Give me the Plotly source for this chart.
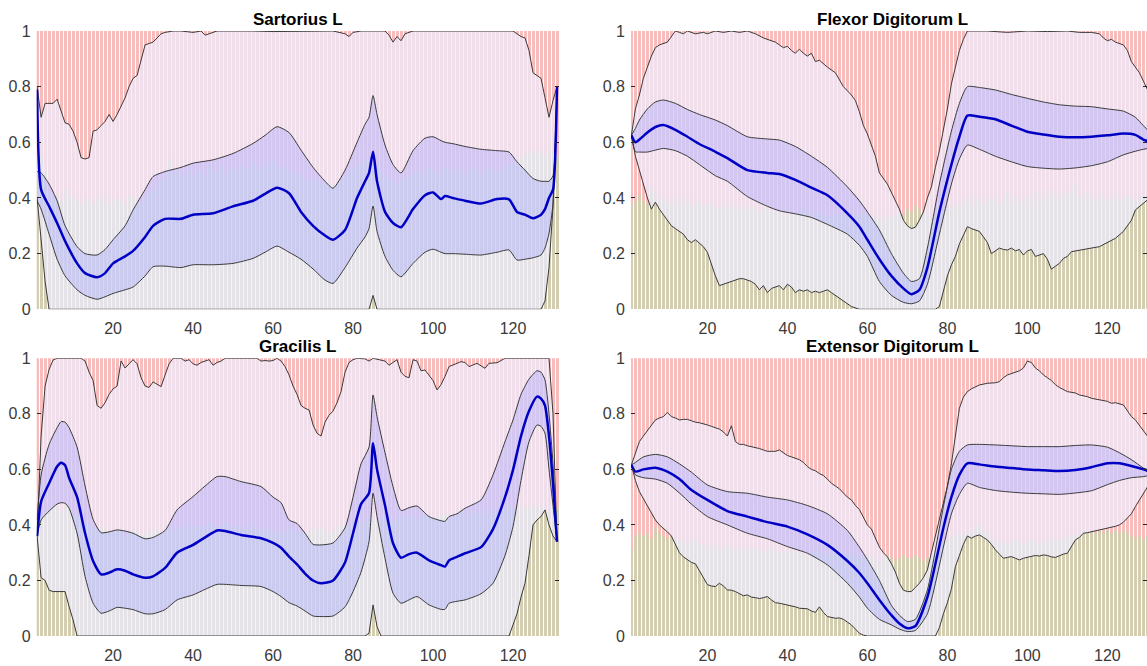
import plotly.graph_objects as go

# ---------------- Sartorius L ----------------
SAR_X = [1,2,4,6,8,11,13,16,18,20,23,25,28,30,33,37,40,45,50,55,58,61,64,67,70,73,75,78,81,83,84,85,86,88,90,92,95,98,100,102,103,105,108,112,116,119,121,123,125,127,128,129,130,131]
SAR_MEAN = [0.79,0.43,0.37,0.31,0.245,0.165,0.13,0.115,0.13,0.165,0.19,0.21,0.26,0.30,0.325,0.325,0.34,0.345,0.37,0.39,0.415,0.437,0.417,0.35,0.30,0.265,0.25,0.285,0.40,0.46,0.49,0.566,0.46,0.35,0.31,0.295,0.36,0.41,0.42,0.396,0.407,0.40,0.39,0.38,0.396,0.395,0.35,0.34,0.327,0.34,0.36,0.40,0.43,0.80]
SAR_UP = [0.495,0.49,0.45,0.39,0.30,0.225,0.20,0.195,0.215,0.25,0.30,0.357,0.43,0.477,0.495,0.51,0.525,0.537,0.56,0.596,0.625,0.656,0.635,0.572,0.51,0.46,0.435,0.50,0.60,0.665,0.69,0.768,0.70,0.59,0.52,0.49,0.57,0.615,0.62,0.606,0.60,0.595,0.585,0.575,0.57,0.565,0.53,0.50,0.47,0.46,0.46,0.46,0.48,0.80]
SAR_LO = [0.39,0.36,0.27,0.18,0.12,0.07,0.05,0.036,0.045,0.057,0.07,0.08,0.12,0.153,0.155,0.15,0.16,0.16,0.165,0.183,0.205,0.227,0.205,0.18,0.145,0.105,0.093,0.15,0.22,0.26,0.29,0.371,0.28,0.19,0.14,0.117,0.165,0.205,0.216,0.205,0.20,0.20,0.198,0.195,0.205,0.213,0.177,0.18,0.185,0.195,0.22,0.273,0.38,0.80]
SAR_MAXX = [1,2,3,5,6,7,8,9,10,11,12,13,14,15,16,17,18,19,20,21,22,23,24,25,26,27,28,29,30,31,32,33,35,37,40,42,43,44,46,55,60,75,78,79,80,82,88,89,90,91,92,93,95,120,121,122,123,124,125,126,127,128,129,130,131]
SAR_MAX = [0.80,0.69,0.74,0.74,0.755,0.71,0.67,0.665,0.64,0.60,0.545,0.54,0.545,0.64,0.645,0.66,0.675,0.70,0.675,0.70,0.73,0.76,0.80,0.83,0.84,0.90,0.95,0.955,0.96,0.975,0.99,0.995,1.0,1.0,0.995,1.0,0.985,0.99,1.0,1.0,0.998,1.0,0.99,0.98,0.995,1.0,1.0,0.985,0.96,0.98,0.965,0.99,1.0,1.0,0.99,0.98,0.975,0.93,0.85,0.84,0.83,0.76,0.69,0.75,0.80]
SAR_MINX = [1,2,3,4,84,85,86,127,128,129,130,131]
SAR_MIN = [0.40,0.25,0.10,0.0,0.0,0.05,0.0,0.0,0.03,0.15,0.37,0.80]
SAR_BAR = [0.54,0.55,0.50,0.42,0.40,0.41,0.39,0.43,0.41,0.40,
           0.39,0.38,0.40,0.39,0.38,0.40,0.39,0.41,0.38,0.39,
           0.40,0.39,0.38,0.41,0.40,0.39,0.38,0.40,0.42,0.43,
           0.45,0.47,0.48,0.54,0.49,0.50,0.48,0.49,0.50,0.48,
           0.49,0.50,0.48,0.51,0.49,0.50,0.52,0.49,0.50,0.51,
           0.50,0.52,0.50,0.51,0.53,0.50,0.52,0.51,0.53,0.54,
           0.52,0.50,0.51,0.49,0.50,0.48,0.49,0.47,0.46,0.47,
           0.46,0.45,0.46,0.44,0.45,0.46,0.47,0.48,0.50,0.51,
           0.52,0.53,0.54,0.55,0.54,0.52,0.50,0.48,0.47,0.46,
           0.45,0.46,0.47,0.48,0.49,0.50,0.49,0.50,0.51,0.50,
           0.49,0.50,0.51,0.50,0.49,0.51,0.50,0.49,0.50,0.51,
           0.50,0.49,0.50,0.51,0.50,0.49,0.50,0.51,0.52,0.53,
           0.54,0.55,0.56,0.57,0.56,0.57,0.56,0.55,0.57,0.56,0.55]

# ---------------- Flexor Digitorum L ----------------
FLX_X = [1,2,3,5,7,9,12,15,18,22,25,30,35,38,42,46,50,55,58,60,63,66,69,71,73,75,78,81,83,85,88,92,96,100,104,108,112,116,120,124,127,129,131]
FLX_MEAN = [0.625,0.60,0.61,0.635,0.655,0.662,0.645,0.62,0.594,0.566,0.543,0.50,0.49,0.486,0.465,0.437,0.41,0.345,0.297,0.25,0.18,0.12,0.075,0.054,0.07,0.15,0.35,0.52,0.62,0.696,0.692,0.683,0.66,0.638,0.628,0.62,0.618,0.62,0.625,0.632,0.627,0.61,0.60]
FLX_UP = [0.625,0.65,0.68,0.72,0.745,0.752,0.74,0.718,0.70,0.68,0.66,0.62,0.612,0.608,0.585,0.55,0.51,0.44,0.39,0.35,0.285,0.20,0.13,0.10,0.11,0.22,0.45,0.64,0.74,0.80,0.797,0.788,0.772,0.758,0.745,0.735,0.73,0.728,0.72,0.712,0.69,0.66,0.63]
FLX_LO = [0.625,0.566,0.565,0.565,0.572,0.578,0.57,0.55,0.52,0.48,0.46,0.405,0.37,0.354,0.343,0.33,0.305,0.27,0.23,0.19,0.10,0.05,0.025,0.02,0.03,0.09,0.27,0.45,0.54,0.59,0.575,0.55,0.53,0.513,0.507,0.504,0.508,0.516,0.53,0.555,0.568,0.575,0.58]
FLX_MAXX = [1,2,3,4,5,6,7,8,10,11,12,13,14,15,17,19,20,22,24,26,28,30,32,34,35,37,38,39,40,41,42,43,44,45,46,47,48,50,52,54,55,56,57,58,59,60,62,63,65,66,68,69,70,71,72,73,74,75,76,77,78,80,81,82,83,84,85,90,95,100,105,110,113,116,118,119,120,121,122,124,125,126,127,128,129,130,131]
FLX_MAX = [0.625,0.72,0.77,0.83,0.87,0.91,0.94,0.95,0.96,0.98,1.0,0.995,0.99,1.0,0.99,0.995,0.99,1.0,0.995,1.0,0.995,1.0,0.99,0.975,0.97,0.96,0.95,0.94,0.945,0.93,0.92,0.935,0.92,0.91,0.92,0.89,0.895,0.87,0.85,0.80,0.785,0.77,0.75,0.71,0.66,0.63,0.55,0.49,0.45,0.42,0.36,0.32,0.30,0.29,0.295,0.32,0.35,0.40,0.44,0.51,0.57,0.72,0.81,0.87,0.93,0.97,1.0,1.0,0.995,1.0,0.998,1.0,0.995,0.995,0.99,0.975,0.965,0.97,0.96,0.95,0.93,0.89,0.87,0.85,0.82,0.79,0.74]
FLX_MINX = list(range(1, 57)) + [58] + list(range(77, 113)) + [114,116,118,120,122,124,126,127,128,130,131]
FLX_MIN = [0.625,0.55,0.50,0.45,0.40,0.36,0.385,0.36,0.34,0.32,
           0.30,0.29,0.28,0.27,0.25,0.24,0.25,0.237,0.225,0.205,
           0.16,0.12,0.085,0.09,0.095,0.10,0.105,0.11,0.11,0.105,
           0.10,0.09,0.07,0.085,0.06,0.075,0.08,0.085,0.07,0.09,
           0.08,0.06,0.07,0.065,0.07,0.06,0.065,0.06,0.065,0.07,
           0.06,0.05,0.04,0.03,0.02,0.01,
           0.0,
           0.0,0.01,0.07,0.12,0.16,0.19,0.235,0.265,0.297,0.29,
           0.285,0.28,0.26,0.24,0.20,0.21,0.22,0.215,0.213,0.22,
           0.21,0.215,0.195,0.21,0.215,0.19,0.195,0.20,0.18,0.144,
           0.155,0.165,0.183,0.19,0.207,0.21,
           0.215,0.22,0.225,0.24,0.255,0.28,0.32,0.357,0.37,0.393,0.40]
FLX_BAR = [0.38,0.39,0.41,0.39,0.38,0.44,0.42,0.39,0.40,0.39,
           0.38,0.40,0.38,0.39,0.40,0.37,0.38,0.39,0.37,0.38,
           0.38,0.37,0.36,0.38,0.37,0.36,0.37,0.36,0.38,0.36,
           0.37,0.36,0.35,0.36,0.37,0.35,0.36,0.35,0.34,0.36,
           0.35,0.34,0.35,0.36,0.34,0.35,0.34,0.35,0.34,0.33,
           0.34,0.33,0.34,0.35,0.33,0.34,0.33,0.34,0.35,0.34,
           0.33,0.34,0.32,0.33,0.34,0.33,0.34,0.35,0.34,0.36,
           0.35,0.37,0.36,0.35,0.34,0.33,0.34,0.35,0.36,0.37,
           0.36,0.38,0.37,0.39,0.40,0.38,0.41,0.39,0.38,0.40,
           0.39,0.41,0.38,0.40,0.42,0.39,0.41,0.40,0.38,0.41,
           0.40,0.42,0.39,0.41,0.40,0.43,0.41,0.40,0.42,0.41,
           0.43,0.45,0.41,0.40,0.42,0.40,0.39,0.41,0.40,0.39,
           0.40,0.41,0.39,0.40,0.41,0.40,0.39,0.40,0.41,0.40,0.39]

# ---------------- Gracilis L ----------------
GRA_X = [1,2,4,6,7,8,9,11,13,15,17,19,21,23,25,28,30,33,36,40,43,46,48,52,57,60,62,64,66,68,70,72,75,78,80,82,84,85,86,88,90,92,94,96,99,102,103,104,106,108,112,115,118,120,122,124,126,127,128,129,130,131]
GRA_MEAN = [0.36,0.484,0.55,0.61,0.624,0.615,0.57,0.50,0.37,0.27,0.222,0.228,0.24,0.235,0.222,0.21,0.215,0.245,0.30,0.328,0.355,0.38,0.378,0.364,0.352,0.335,0.318,0.286,0.258,0.225,0.20,0.19,0.20,0.265,0.37,0.475,0.515,0.694,0.60,0.47,0.334,0.282,0.295,0.30,0.272,0.255,0.25,0.272,0.285,0.298,0.32,0.385,0.50,0.598,0.72,0.81,0.862,0.855,0.83,0.72,0.55,0.34]
GRA_UP = [0.418,0.58,0.69,0.75,0.772,0.77,0.75,0.68,0.54,0.42,0.372,0.375,0.382,0.378,0.37,0.35,0.355,0.38,0.454,0.502,0.54,0.574,0.574,0.556,0.538,0.50,0.48,0.418,0.405,0.37,0.33,0.328,0.335,0.39,0.50,0.62,0.68,0.868,0.79,0.66,0.538,0.452,0.462,0.468,0.43,0.415,0.413,0.43,0.44,0.46,0.49,0.58,0.70,0.778,0.87,0.925,0.955,0.95,0.922,0.80,0.62,0.34]
GRA_LO = [0.36,0.418,0.45,0.475,0.48,0.478,0.46,0.37,0.214,0.118,0.082,0.09,0.103,0.10,0.095,0.08,0.08,0.095,0.13,0.148,0.168,0.186,0.186,0.182,0.178,0.16,0.142,0.12,0.108,0.09,0.072,0.07,0.072,0.105,0.16,0.23,0.34,0.514,0.43,0.28,0.154,0.118,0.13,0.142,0.112,0.096,0.096,0.118,0.125,0.13,0.152,0.19,0.29,0.394,0.56,0.70,0.76,0.755,0.73,0.60,0.47,0.34]
GRA_MAXX = [1,2,3,4,5,6,12,13,14,15,16,17,18,19,20,21,22,23,24,25,26,27,28,29,30,31,32,33,34,35,37,38,39,40,41,42,43,44,45,46,47,48,56,57,58,59,60,61,62,63,64,65,66,67,68,69,70,71,72,73,74,75,76,77,78,79,80,81,83,84,85,88,89,90,91,92,93,94,95,96,97,98,99,100,101,102,103,104,106,107,108,109,111,113,114,116,118,129,130,131]
GRA_MAX = [0.36,0.72,0.90,0.96,0.994,1.0,1.0,0.99,0.95,0.92,0.83,0.82,0.84,0.87,0.89,0.90,0.99,0.965,0.98,0.995,0.98,0.93,0.90,0.895,0.915,0.905,0.898,0.94,0.98,1.0,1.0,0.99,0.995,0.98,0.975,0.985,0.99,0.995,0.975,0.985,0.99,1.0,1.0,0.99,0.992,0.99,0.992,1.0,0.99,0.97,0.94,0.90,0.87,0.83,0.82,0.814,0.76,0.73,0.72,0.77,0.795,0.81,0.84,0.88,0.95,0.985,0.995,1.0,0.998,0.99,1.0,0.99,0.975,0.985,0.995,0.95,0.935,0.93,0.995,0.99,0.955,0.958,0.94,0.92,0.886,0.905,0.935,0.97,0.982,0.988,0.985,0.97,0.982,0.964,0.982,0.984,1.0,1.0,0.80,0.34]
GRA_MINX = [1,2,3,4,5,8,9,10,11,83,84,85,86,87,119,120,121,122,123,124,125,126,127,128,129,130,131]
GRA_MIN = [0.36,0.21,0.20,0.165,0.16,0.16,0.106,0.058,0.0,0.0,0.01,0.112,0.034,0.0,0.0,0.04,0.08,0.14,0.19,0.29,0.40,0.418,0.43,0.454,0.40,0.36,0.34]
GRA_BAR = [0.42,0.44,0.45,0.46,0.47,0.46,0.45,0.47,0.46,0.44,
           0.43,0.42,0.41,0.40,0.39,0.38,0.39,0.38,0.37,0.38,
           0.37,0.38,0.36,0.37,0.38,0.37,0.36,0.37,0.38,0.37,
           0.38,0.37,0.38,0.39,0.38,0.39,0.38,0.39,0.40,0.39,
           0.40,0.39,0.40,0.41,0.40,0.39,0.40,0.41,0.40,0.39,
           0.40,0.39,0.38,0.39,0.40,0.39,0.38,0.39,0.38,0.37,
           0.38,0.37,0.38,0.39,0.38,0.37,0.38,0.37,0.38,0.39,
           0.38,0.39,0.38,0.37,0.38,0.39,0.40,0.39,0.40,0.41,
           0.42,0.41,0.42,0.43,0.42,0.41,0.42,0.43,0.42,0.41,
           0.42,0.43,0.42,0.44,0.43,0.42,0.43,0.44,0.43,0.42,
           0.43,0.44,0.43,0.42,0.43,0.44,0.45,0.43,0.44,0.45,
           0.44,0.45,0.44,0.46,0.44,0.45,0.46,0.45,0.47,0.46,
           0.45,0.47,0.46,0.47,0.46,0.47,0.46,0.45,0.46,0.47,0.46]

# ---------------- Extensor Digitorum L ----------------
EXT_X = [1,2,4,7,10,13,16,20,25,30,35,40,45,50,55,58,60,63,66,68,70,72,75,77,79,81,83,85,88,92,96,100,104,108,112,116,120,123,126,129,131]
EXT_MEAN = [0.616,0.592,0.60,0.606,0.592,0.565,0.526,0.49,0.45,0.43,0.41,0.394,0.366,0.328,0.27,0.227,0.19,0.13,0.075,0.045,0.028,0.036,0.14,0.26,0.39,0.50,0.58,0.622,0.618,0.61,0.605,0.60,0.597,0.594,0.598,0.608,0.622,0.622,0.612,0.60,0.59]
EXT_UP = [0.616,0.625,0.645,0.654,0.645,0.62,0.59,0.544,0.52,0.514,0.50,0.49,0.47,0.44,0.38,0.32,0.275,0.20,0.11,0.075,0.052,0.06,0.166,0.31,0.466,0.60,0.665,0.688,0.69,0.688,0.685,0.682,0.682,0.682,0.686,0.688,0.68,0.66,0.635,0.605,0.595]
EXT_LO = [0.616,0.58,0.57,0.565,0.55,0.515,0.475,0.43,0.40,0.37,0.35,0.322,0.298,0.256,0.19,0.14,0.10,0.06,0.04,0.025,0.016,0.02,0.08,0.19,0.32,0.44,0.51,0.55,0.535,0.524,0.518,0.514,0.512,0.51,0.515,0.523,0.545,0.56,0.57,0.574,0.58]
EXT_MAXX = list(range(1, 87)) + [88,90,92,93,94,95,96,97,98,99,100,101,102,103,104,105,106,107,108,110,112,113,115,116,118,120,121,122,124,125,126,127,128,129,130,131]
EXT_MAX = [0.616,0.66,0.70,0.72,0.74,0.76,0.778,0.785,0.79,0.805,
           0.79,0.785,0.778,0.78,0.78,0.775,0.77,0.768,0.765,0.76,
           0.755,0.75,0.745,0.735,0.72,0.757,0.70,0.69,0.69,0.685,
           0.682,0.68,0.675,0.67,0.665,0.665,0.665,0.67,0.66,0.65,
           0.645,0.64,0.635,0.625,0.61,0.60,0.595,0.585,0.578,0.565,
           0.55,0.54,0.53,0.515,0.50,0.49,0.47,0.455,0.43,0.40,
           0.385,0.35,0.32,0.30,0.285,0.26,0.23,0.19,0.165,0.16,
           0.16,0.175,0.19,0.21,0.238,0.30,0.36,0.418,0.47,0.54,
           0.62,0.73,0.82,0.86,0.88,0.89,
           0.904,0.91,0.912,0.916,0.93,0.94,0.945,0.952,0.955,0.965,
           0.99,0.985,0.965,0.955,0.94,0.93,0.92,0.905,0.895,0.88,
           0.875,0.868,0.862,0.856,0.85,0.845,0.838,0.84,0.832,0.81,
           0.79,0.778,0.76,0.74,0.72,0.70]
EXT_MINX = list(range(1, 61)) + list(range(77, 132))
EXT_MIN = [0.616,0.56,0.52,0.495,0.47,0.445,0.418,0.40,0.388,0.375,
           0.36,0.33,0.30,0.285,0.274,0.265,0.26,0.235,0.208,0.185,
           0.18,0.178,0.19,0.18,0.166,0.165,0.16,0.152,0.145,0.148,
           0.14,0.138,0.135,0.138,0.142,0.13,0.12,0.118,0.115,0.112,
           0.11,0.105,0.10,0.10,0.098,0.09,0.085,0.105,0.085,0.07,
           0.068,0.064,0.065,0.06,0.05,0.04,0.025,0.01,0.003,0.0,
           0.0,0.03,0.08,0.12,0.17,0.25,0.29,0.33,0.36,0.352,
           0.36,0.364,0.355,0.346,0.33,0.31,0.295,0.28,0.283,0.286,
           0.28,0.274,0.28,0.283,0.286,0.29,0.288,0.292,0.29,0.285,
           0.283,0.29,0.295,0.298,0.32,0.346,0.355,0.37,0.372,0.375,
           0.378,0.382,0.385,0.388,0.39,0.395,0.40,0.41,0.425,0.44,
           0.466,0.49,0.514,0.54,0.56]
EXT_BAR = [0.31,0.36,0.37,0.36,0.37,0.35,0.39,0.37,0.36,0.35,
           0.36,0.35,0.34,0.35,0.33,0.34,0.35,0.33,0.32,0.33,
           0.32,0.33,0.31,0.32,0.33,0.32,0.31,0.32,0.31,0.32,
           0.31,0.32,0.31,0.30,0.31,0.32,0.31,0.30,0.31,0.30,
           0.31,0.30,0.31,0.30,0.29,0.30,0.31,0.30,0.29,0.30,
           0.29,0.30,0.29,0.30,0.29,0.30,0.29,0.28,0.29,0.28,
           0.29,0.28,0.27,0.28,0.29,0.28,0.27,0.28,0.29,0.28,
           0.28,0.29,0.28,0.27,0.28,0.29,0.30,0.32,0.34,0.35,
           0.36,0.37,0.36,0.37,0.38,0.37,0.39,0.41,0.38,0.37,
           0.35,0.34,0.33,0.34,0.33,0.34,0.35,0.34,0.33,0.34,
           0.35,0.34,0.33,0.34,0.35,0.34,0.35,0.34,0.35,0.36,
           0.37,0.36,0.37,0.38,0.37,0.38,0.37,0.38,0.37,0.38,
           0.37,0.38,0.37,0.38,0.37,0.36,0.35,0.36,0.35,0.36,0.35]

TITLES = ["Sartorius L", "Flexor Digitorum L", "Gracilis L", "Extensor Digitorum L"]
X_TICKS = [20, 40, 60, 80, 100, 120]
Y_TICKS = [0, 0.2, 0.4, 0.6, 0.8, 1]

KHAKI = "#d3cdb2"
RED = "#f7bcbc"
ENV_FILL = "rgba(236,236,255,0.70)"
BAND_FILL = "rgba(150,150,255,0.32)"
EDGE = "#3a3a3a"
BLUE = "#0000c4"
FONT = "Liberation Sans, Arial, sans-serif"

fig = go.Figure()


def panel(n, bars, sx, mean, up, lo, maxx, maxy, minx, miny):
    xa = "x" if n == 1 else f"x{n}"
    ya = "y" if n == 1 else f"y{n}"
    xs = list(range(1, len(bars) + 1))
    fig.add_trace(go.Bar(x=xs, y=bars, width=0.75, marker=dict(color=KHAKI, line=dict(width=0)),
                         xaxis=xa, yaxis=ya, showlegend=False, hoverinfo="skip"))
    fig.add_trace(go.Bar(x=xs, y=[1 - b for b in bars], width=0.75, marker=dict(color=RED, line=dict(width=0)),
                         xaxis=xa, yaxis=ya, showlegend=False, hoverinfo="skip"))
    fig.add_trace(go.Scatter(x=maxx + minx[::-1], y=maxy + miny[::-1], fill="toself", fillcolor=ENV_FILL,
                             mode="lines", line=dict(width=0), xaxis=xa, yaxis=ya, showlegend=False, hoverinfo="skip"))
    fig.add_trace(go.Scatter(x=sx + sx[::-1], y=up + lo[::-1], fill="toself", fillcolor=BAND_FILL,
                             mode="lines", line=dict(width=0, shape="spline", smoothing=0.6),
                             xaxis=xa, yaxis=ya, showlegend=False, hoverinfo="skip"))
    for xx, yy in ((maxx, maxy), (minx, miny)):
        fig.add_trace(go.Scatter(x=xx, y=yy, mode="lines", line=dict(color=EDGE, width=1),
                                 xaxis=xa, yaxis=ya, showlegend=False, hoverinfo="skip"))
    for yy in (up, lo):
        fig.add_trace(go.Scatter(x=sx, y=yy, mode="lines", line=dict(color=EDGE, width=1, shape="spline", smoothing=0.6),
                                 xaxis=xa, yaxis=ya, showlegend=False, hoverinfo="skip"))
    fig.add_trace(go.Scatter(x=sx, y=mean, mode="lines", line=dict(color=BLUE, width=2.5, shape="spline", smoothing=0.6),
                             xaxis=xa, yaxis=ya, showlegend=False, hoverinfo="skip"))


panel(1, SAR_BAR, SAR_X, SAR_MEAN, SAR_UP, SAR_LO, SAR_MAXX, SAR_MAX, SAR_MINX, SAR_MIN)
panel(2, FLX_BAR, FLX_X, FLX_MEAN, FLX_UP, FLX_LO, FLX_MAXX, FLX_MAX, FLX_MINX, FLX_MIN)
panel(3, GRA_BAR, GRA_X, GRA_MEAN, GRA_UP, GRA_LO, GRA_MAXX, GRA_MAX, GRA_MINX, GRA_MIN)
panel(4, EXT_BAR, EXT_X, EXT_MEAN, EXT_UP, EXT_LO, EXT_MAXX, EXT_MAX, EXT_MINX, EXT_MIN)

W, H = 1147, 666
LEFT_DOM = [36.7 / W, 559.0 / W]
RIGHT_DOM = [631.0 / W, 1.0]
TOP_DOM = [1 - 309.3 / H, 1 - 31.0 / H]
BOT_DOM = [1 - 636.0 / H, 1 - 358.3 / H]

tickfont = dict(family=FONT, size=16, color="#3a3a3a")
xcommon = dict(tickvals=X_TICKS, showgrid=False, zeroline=False, showline=False, ticks="",
               tickfont=tickfont, fixedrange=True, automargin=False, ticklabelstandoff=8)
ycommon = dict(range=[0, 1], tickvals=Y_TICKS, showgrid=False, zeroline=False, showline=False,
               ticks="inside", ticklen=4, tickcolor="#262626", tickwidth=1, mirror="ticks",
               tickfont=tickfont, fixedrange=True, automargin=False, ticklabelstandoff=5)

fig.update_layout(
    width=W, height=H, margin=dict(l=0, r=0, t=0, b=0, autoexpand=False),
    paper_bgcolor="white", plot_bgcolor="white",
    barmode="stack", bargap=0,
    font=dict(family=FONT),
    xaxis=dict(domain=LEFT_DOM, range=[0.9, 131.5], anchor="y", **xcommon),
    yaxis=dict(domain=TOP_DOM, anchor="x", **ycommon),
    xaxis2=dict(domain=RIGHT_DOM, range=[0.9, 129.9], anchor="y2", **xcommon),
    yaxis2=dict(domain=TOP_DOM, anchor="x2", **ycommon),
    xaxis3=dict(domain=LEFT_DOM, range=[0.9, 131.5], anchor="y3", **xcommon),
    yaxis3=dict(domain=BOT_DOM, anchor="x3", **ycommon),
    xaxis4=dict(domain=RIGHT_DOM, range=[0.9, 129.9], anchor="y4", **xcommon),
    yaxis4=dict(domain=BOT_DOM, anchor="x4", **ycommon),
)

centers = [(LEFT_DOM[0] + LEFT_DOM[1]) / 2, (631.0 + 1153.0) / 2 / W]
tops = [TOP_DOM[1], BOT_DOM[1]]
for i, t in enumerate(TITLES):
    fig.add_annotation(text=f"<b>{t}</b>", x=centers[i % 2], y=tops[i // 2], xref="paper", yref="paper",
                       xanchor="center", yanchor="bottom", yshift=0, showarrow=False,
                       font=dict(family=FONT, size=17, color="#000000"))

fig.write_html("out.html")
